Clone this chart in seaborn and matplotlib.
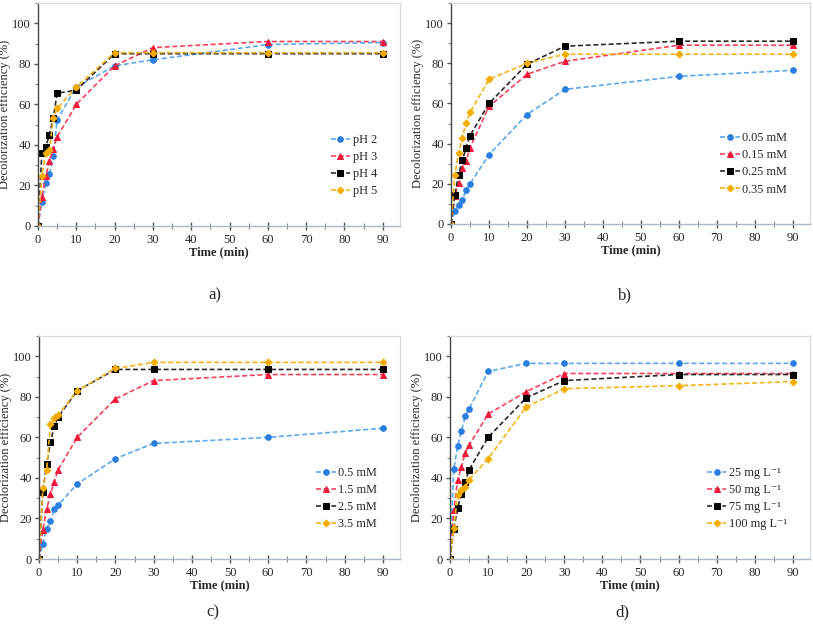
import numpy as np
import pandas as pd
import seaborn as sns
import matplotlib.pyplot as plt
from matplotlib.ticker import MultipleLocator

# sampling times (min)
time = [0, 1, 2, 3, 4, 5, 10, 20, 30, 60, 90]

# a) pH
ph2 = [0, 12, 21, 25.5, 34.5, 52.5, 68.5, 79, 82, 89.5, 90.5]
ph3 = [0, 14.5, 24.5, 32, 38, 44, 60, 79, 88, 91, 91]
ph4 = [0, 36, 39, 45, 53.5, 65.5, 67, 85, 85, 85, 85]
ph5 = [0, 24.5, 36, 37.5, 53.5, 58, 68.5, 85.5, 85.5, 85.5, 85.5]
labels_a = ['pH 2', 'pH 3', 'pH 4', 'pH 5']

# b) 0.05 - 0.35 mM
b005 = [0, 6.5, 9.5, 12, 17, 20, 34.5, 54.5, 67, 73.5, 76.5]
b015 = [0, 14, 20.5, 28, 31.5, 38, 58.5, 74.5, 81, 89, 89]
b025 = [0, 14.5, 24.5, 32, 38, 44, 60, 79.5, 88.5, 91, 91]
b035 = [0, 24.5, 35.5, 43, 50.5, 55.5, 72, 80, 84.5, 84.5, 84.5]
labels_b = ['0.05 mM', '0.15 mM', '0.25 mM', '0.35 mM']

# c) 0.5 - 3.5 mM
c05 = [0, 7.5, 15, 18.5, 24.5, 26.5, 37, 49.5, 57, 60, 64.5]
c15 = [0, 14.5, 24.5, 32, 38, 44, 60, 79, 88, 91, 91]
c25 = [0, 33, 47, 57.5, 65.5, 70, 83, 93.5, 93.5, 93.5, 93.5]
c35 = [0, 35, 44, 66.5, 69.5, 71, 83, 94, 97, 97, 97]
labels_c = ['0.5 mM', '1.5 mM', '2.5 mM', '3.5 mM']

# d) dye concentration
d25 = [0, 44.5, 55.5, 63, 70.5, 74, 92.5, 96.5, 96.5, 96.5, 96.5]
d50 = [0, 24, 39, 45.5, 52.5, 56, 71.5, 82.5, 91.5, 91.5, 91.5]
d75 = [0, 15, 25, 32, 38, 44, 60, 79.5, 88, 91, 91]
d100 = [0, 15.5, 31.5, 34, 35.5, 39, 49.5, 75, 84, 85.5, 87.5]
labels_d = ['25 mg L\u207b\u00b9', '50 mg L\u207b\u00b9', '75 mg L\u207b\u00b9', '100 mg L\u207b\u00b9']

panels = [
    ('a)', [ph2, ph3, ph4, ph5], labels_a),
    ('b)', [b005, b015, b025, b035], labels_b),
    ('c)', [c05, c15, c25, c35], labels_c),
    ('d)', [d25, d50, d75, d100], labels_d),
]

line_colors = ['#5aa9ec', '#f5425c', '#2b2b2b', '#f5b31c']
mark_colors = ['#2a7de1', '#f01a3a', '#000000', '#f7ad00']
markers = ['o', '^', 's', 'D']
msizes = [4, 4.5, 4, 3.5]

sns.set_style('white')
plt.rcParams['font.family'] = ['Liberation Serif', 'DejaVu Serif']

fig = plt.figure(figsize=(8.13, 6.4), dpi=100)
# axes positions (left, bottom, width, height) in figure fraction
boxes = [
    (38 / 813, 1 - 226 / 640, 362 / 813, 223 / 640),
    (451 / 813, 1 - 224 / 640, 359 / 813, 221 / 640),
    (39 / 813, 1 - 559 / 640, 361 / 813, 223 / 640),
    (450 / 813, 1 - 559 / 640, 360 / 813, 223 / 640),
]
label_pos = [(215, 295), (625, 295), (213, 612), (622, 612)]

for (tag, series, labels), box, lp in zip(panels, boxes, label_pos):
    ax = fig.add_axes(box)
    for i, vals in enumerate(series):
        df = pd.DataFrame({'t': time, 'v': vals})
        sns.lineplot(data=df, x='t', y='v', ax=ax, color=line_colors[i],
                     linestyle=(0, (3, 1.6)), linewidth=1.2,
                     marker=markers[i], markersize=msizes[i],
                     markerfacecolor=mark_colors[i], markeredgecolor=mark_colors[i],
                     label=labels[i], errorbar=None, sort=False)
    ax.set_xlim(0, 94.5)
    ax.set_ylim(0, 110)
    ax.set_xticks(np.arange(0, 91, 10))
    ax.set_yticks(np.arange(0, 101, 20))
    ax.xaxis.set_minor_locator(MultipleLocator(5))
    ax.yaxis.set_minor_locator(MultipleLocator(10))
    ax.tick_params(axis='x', which='major', direction='inout', length=6, width=1,
                   color='#555555', labelsize=9, pad=3)
    ax.tick_params(axis='x', which='minor', direction='inout', length=4, width=0.8,
                   color='#888888')
    ax.tick_params(axis='y', which='major', direction='out', length=3, width=1,
                   color='#555555', labelsize=9, pad=2)
    ax.tick_params(axis='y', which='minor', direction='out', length=2, width=0.8,
                   color='#888888')
    ax.tick_params(bottom=True, left=True, which='both')
    ax.spines['left'].set_color('#444444')
    ax.spines['left'].set_linewidth(1.0)
    ax.spines['bottom'].set_color('#aab8c8')
    ax.spines['bottom'].set_linewidth(1.0)
    for s in ['top', 'right']:
        ax.spines[s].set_color('#d8dce0')
        ax.spines[s].set_linewidth(1.0)
    ax.set_xlabel('Time (min)', fontsize=9, fontweight='bold', labelpad=0)
    ax.set_ylabel('Decolorization efficiency (%)', fontsize=9, labelpad=1)
    ax.grid(False)
    leg = ax.legend(loc='lower right', bbox_to_anchor=(0.96, 0.09), frameon=False,
                    fontsize=8.8, handlelength=1.6, handletextpad=0.2,
                    labelspacing=0.42, borderpad=0.2)
    fig.text(lp[0] / 813, 1 - lp[1] / 640, tag, fontsize=12, ha='center', va='center')

fig.savefig('out.png', dpi=100, facecolor='white')
